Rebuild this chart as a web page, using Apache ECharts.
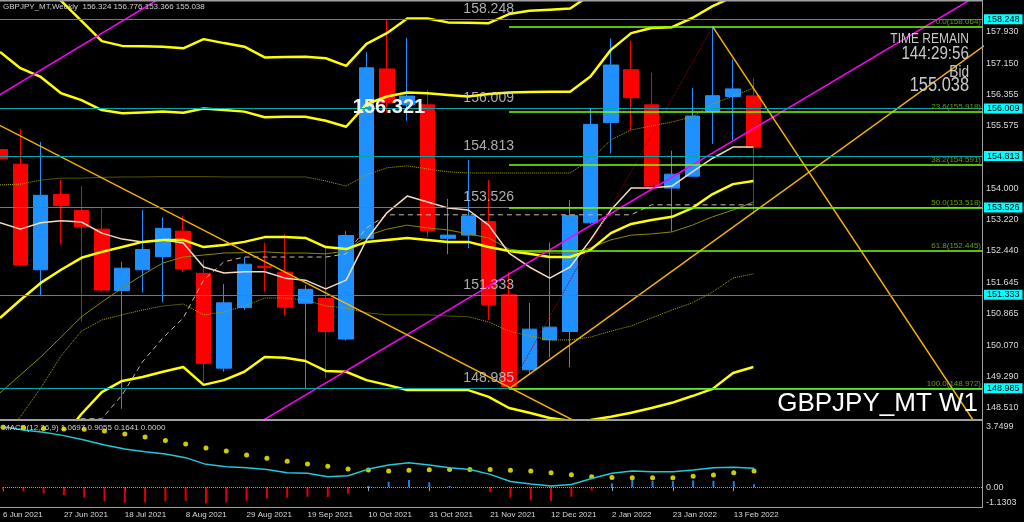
<!DOCTYPE html>
<html><head><meta charset="utf-8">
<script src="https://cdn.jsdelivr.net/npm/echarts@6/dist/echarts.min.js"></script>
<style>html,body{margin:0;padding:0;background:#000;}#c{width:1024px;height:522px;}</style>
</head><body><div id="c"></div>
<script>
// ---- categories (weekly candles) ----
const weeks = ['6 Jun 2021','13 Jun 2021','20 Jun 2021','27 Jun 2021','4 Jul 2021','11 Jul 2021','18 Jul 2021','25 Jul 2021','1 Aug 2021','8 Aug 2021','15 Aug 2021','22 Aug 2021','29 Aug 2021','5 Sep 2021','12 Sep 2021','19 Sep 2021','26 Sep 2021','3 Oct 2021','10 Oct 2021','17 Oct 2021','24 Oct 2021','31 Oct 2021','7 Nov 2021','14 Nov 2021','21 Nov 2021','28 Nov 2021','5 Dec 2021','12 Dec 2021','19 Dec 2021','26 Dec 2021','2 Jan 2022','9 Jan 2022','16 Jan 2022','23 Jan 2022','30 Jan 2022','6 Feb 2022','13 Feb 2022','20 Feb 2022'];
const dateTickIdx = [0,3,6,9,12,15,18,21,24,27,30,33,36];
// ---- candles [open, close, low, high] ----
const candles = [
[154.98,154.75,154.60,155.05],[154.61,152.08,152.05,155.49],[151.96,153.83,151.30,155.17],[153.85,153.57,152.60,154.21],
[153.45,153.04,150.66,154.06],[152.98,151.45,151.41,153.49],[151.44,152.00,148.47,152.16],[151.96,152.47,151.39,153.46],
[152.29,153.00,151.15,153.27],[152.93,151.98,151.91,153.31],[151.87,149.61,149.15,152.21],[149.49,151.13,149.40,151.60],
[151.01,152.10,150.95,152.27],[152.05,152.02,151.41,152.64],[151.90,151.02,150.81,152.85],[151.12,151.47,148.985,151.58],
[151.24,150.41,149.24,152.54],[150.22,152.82,150.18,152.93],[152.75,157.03,152.72,157.42],[157.00,156.15,155.90,158.248],
[156.10,156.32,155.70,157.78],[156.10,152.94,152.79,156.47],[152.75,152.83,152.35,153.74],[152.83,153.31,152.50,154.72],
[153.17,151.08,150.70,154.21],[151.33,149.03,148.972,151.90],[149.45,150.47,149.36,151.13],[150.20,150.52,149.76,152.64],
[150.41,153.32,149.51,153.71],[153.14,155.61,153.11,156.01],[155.66,157.10,154.88,157.77],[156.98,156.28,155.47,157.71],
[156.10,154.06,154.05,156.91],[154.01,154.36,152.92,154.95],[154.31,155.82,154.30,156.52],[155.93,156.33,155.12,158.064],
[156.31,156.50,155.22,157.24],[156.324,155.038,153.366,156.776]];
// ---- indicator lines (price) ----
const bandOuterUpper = [159.99,159.61,159.18,158.71,158.21,157.70,157.58,157.57,157.56,157.52,157.75,157.65,157.56,157.29,157.30,157.31,157.27,157.08,157.63,157.90,158.27,158.27,158.17,158.16,158.15,158.38,158.46,158.49,158.52,158.86,159.6,160.1,160.3,160.4,160.6,160.9,161.0,161.1];
const bandUpper = [157.43,157.02,156.80,156.39,156.22,155.97,155.89,155.91,155.93,155.90,156.01,155.97,155.93,155.79,155.80,155.80,155.70,155.55,156.12,156.31,156.41,156.39,156.35,156.31,156.37,156.41,156.42,156.43,156.43,156.81,157.48,157.90,158.03,158.05,158.28,158.58,158.81,158.98];
const bandMiddle = [150.75,151.20,151.63,151.96,152.26,152.41,152.53,152.66,152.71,152.71,152.53,152.58,152.66,152.78,152.78,152.76,152.53,152.48,152.66,152.71,152.76,152.71,152.66,152.66,152.53,152.43,152.36,152.28,152.28,152.46,152.88,153.11,153.21,153.29,153.51,153.86,154.11,154.19];
const bandLower = [147.8,147.6,147.5,147.7,148.34,148.89,149.17,149.27,149.40,149.52,149.07,149.19,149.40,149.77,149.75,149.67,149.42,149.40,149.19,149.07,148.94,148.94,148.94,148.94,148.77,148.49,148.37,148.24,148.17,148.19,148.27,148.37,148.49,148.62,148.79,148.97,149.37,149.52];
const oliveLine = [148.87,149.32,149.77,150.27,150.78,151.15,151.50,151.83,152.13,152.28,152.33,152.38,152.39,152.41,152.38,152.38,152.36,152.43,152.81,152.98,153.08,153.01,152.96,152.86,152.76,152.48,152.41,152.38,152.38,152.51,152.71,152.83,152.86,152.91,153.08,153.29,153.46,153.66];
const dotUpper = [154.09,154.11,154.21,154.26,154.26,154.28,154.29,154.29,154.30,154.30,154.30,154.29,154.29,154.29,154.29,154.29,154.19,154.06,154.34,154.52,154.57,154.49,154.42,154.39,154.39,154.39,154.39,154.39,154.39,154.72,155.22,155.47,155.57,155.67,155.80,156.12,156.32,156.52];
const dotLower = [147.68,148.27,148.99,149.80,150.42,150.70,150.83,150.95,151.05,151.10,150.83,150.90,151.05,151.25,151.25,151.20,151.05,151.00,150.88,150.83,150.83,150.83,150.80,150.78,150.65,150.42,150.30,150.20,150.20,150.27,150.42,150.55,150.75,150.95,151.13,151.40,151.75,151.86];
const fastMA = [153.14,152.98,153.14,153.19,153.16,152.88,152.73,152.66,152.71,152.63,152.03,151.88,151.91,151.91,151.75,151.70,151.48,151.70,152.71,153.39,153.81,153.66,153.51,153.46,153.08,152.38,152.03,151.75,152.03,152.71,153.46,154.01,154.01,154.06,154.42,154.76,155.04,155.04];
const stepLine = [148.10,148.10,148.10,148.10,148.22,148.22,148.82,149.65,150.25,150.75,151.70,152.16,152.28,152.28,152.28,152.28,152.28,152.36,153.01,153.34,153.34,153.34,153.34,153.34,153.34,153.34,153.34,153.34,153.34,153.34,153.34,153.34,153.59,153.59,153.59,153.59,153.59,153.59];
// ---- trend lines: [index, price] end points ----
const magentaLine1 = [[-1,156.047],[10,159.435]];
const magentaLine2 = [[12,147.903],[49,159.147]];
const goldDown1 = [[-1,155.845],[30,147.698]];
const goldUp = [[25,148.972],[49,157.828]];
const goldDown2 = [[35,158.064],[49,147.256]];
const fibTrend = [[25,148.972],[35,158.064]];
// ---- horizontal levels ----
const cyanLevels = [158.248,156.009,154.813,153.526,151.333,148.985];
const fibLevels = [['0.0',158.064],['23.6',155.918],['38.2',154.591],['50.0',153.518],['61.8',152.445],['100.0',148.972]];
const bidPrice = 155.038;
const priceTicks = [157.930,157.150,156.355,155.575,154.000,153.220,152.440,151.645,150.865,150.070,149.290,148.510];
// ---- MACD ----
const macdMain = [3.43,3.24,3.11,2.92,2.67,2.39,2.16,2.01,1.88,1.67,1.29,1.15,1.10,1.00,0.81,0.78,0.59,0.64,1.02,1.25,1.38,1.25,1.10,1.00,0.72,0.32,0.17,0.06,0.15,0.49,0.78,0.91,0.87,0.87,0.97,1.10,1.12,1.0697];
const macdSignal = [3.40,3.37,3.33,3.30,3.28,3.18,3.01,2.84,2.65,2.44,2.22,2.05,1.82,1.63,1.46,1.31,1.18,1.02,0.97,0.91,0.95,0.98,1.00,1.00,1.00,0.95,0.91,0.81,0.70,0.59,0.55,0.53,0.53,0.53,0.61,0.68,0.81,0.9055];
const macdHist = [-0.15,-0.23,-0.36,-0.45,-0.60,-0.80,-0.89,-0.87,-0.80,-0.78,-0.93,-0.87,-0.78,-0.64,-0.60,-0.55,-0.57,-0.38,0.07,0.30,0.40,0.27,0.06,-0.01,-0.27,-0.60,-0.74,-0.78,-0.55,-0.19,0.21,0.40,0.36,0.34,0.38,0.36,0.34,0.1641];
const macdTicks = [3.7499,0,-1.1303];

const F = '"Liberation Sans", Arial, sans-serif';
const XMAX = 48.23;
const idx = a => a.map((v,i)=>[i,v]);
function ln(data, color, width, type, z){
  return {type:'line', xAxisIndex:0, yAxisIndex:0, data: idx(data), symbol:'none', silent:true,
    lineStyle:{color:color, width:width, type:type||'solid'}, z:z||3};
}
function seg(pts, color, width, type){
  return {type:'line', xAxisIndex:0, yAxisIndex:0, data: pts, symbol:'none', silent:true,
    lineStyle:{color:color, width:width, type:type||'solid'}, z:4};
}
function narrowText(text, x, y, size, scale){
  return {type:'text', z:100, x:x, y:y, scaleX:scale, style:{text:text, x:0, y:0, textAlign:'right', textVerticalAlign:'middle', fill:'#c8c8c8', font:size+'px '+F}};
}
const chart = echarts.init(document.getElementById('c'));
const option = {
  backgroundColor:'#000',
  animation:false,
  grid:[{left:0, top:0, width:982, height:419},{left:0, top:421, width:982, height:86}],
  xAxis:[
    {type:'value', gridIndex:0, min:0, max:XMAX, show:false},
    {type:'value', gridIndex:1, min:0, max:XMAX, axisLine:{show:false}, splitLine:{show:false},
     axisTick:{show:true, customValues:dateTickIdx, length:4, lineStyle:{color:'#a0a0a0'}},
     axisLabel:{customValues:dateTickIdx, formatter:v=>weeks[Math.round(v)]||'', align:'left', color:'#d8d8d8', fontSize:8, fontFamily:F, margin:4}}
  ],
  yAxis:[
    {type:'value', gridIndex:0, min:148.214, max:158.732, position:'right', axisLine:{show:false}, splitLine:{show:false}, axisTick:{show:false},
     axisLabel:{customValues:priceTicks, formatter:v=>v.toFixed(3), color:'#d8d8d8', fontSize:9, fontFamily:F, margin:4}},
    {type:'value', gridIndex:1, min:-1.1303, max:3.7499, position:'right', axisLine:{show:false}, splitLine:{show:false}, axisTick:{show:false},
     axisLabel:{customValues:macdTicks, color:'#d8d8d8', fontSize:9, fontFamily:F, margin:4,
       formatter:v=> v>3 ? '{t|'+v.toFixed(4)+'}' : (v<-1 ? '{b|'+v.toFixed(4)+'}' : v.toFixed(2)),
       rich:{t:{padding:[12,0,0,0], fontSize:9, color:'#d8d8d8'}, b:{padding:[0,0,8,0], fontSize:9, color:'#d8d8d8'}}}}
  ],
  series:[
    {type:'candlestick', xAxisIndex:0, yAxisIndex:0, silent:true, z:2, barWidth:15,
     encode:{x:0, y:[1,2,3,4]},
     data: candles.map((c,i)=>[i,c[0],c[1],c[2],c[3]]),
     itemStyle:{color:'#1e90ff', color0:'#ff0000', borderColor:'#1e90ff', borderColor0:'#ff0000', borderWidth:1}},
    ln(oliveLine,'#8a8a00',1),
    ln(dotUpper,'#a8a800',1,'dotted'),
    ln(dotLower,'#a8a800',1,'dotted'),
    ln(stepLine,'#c8bca8',1,[5,4]),
    ln(fastMA,'#f5dcc0',1.5),
    ln(bandOuterUpper,'#ffff00',2.5),
    ln(bandUpper,'#ffff00',2.5),
    ln(bandMiddle,'#ffff00',2.5),
    ln(bandLower,'#ffff00',2.5),
    seg(magentaLine1,'#ff00ff',1.5),
    seg(magentaLine2,'#ff00ff',1.5),
    seg(goldDown1,'#f5b400',1.5),
    seg(goldUp,'#f5b400',1.5),
    seg(goldDown2,'#f5b400',1.5),
    seg(fibTrend,'#a00000',1,'dotted'),
    {type:'line', xAxisIndex:0, yAxisIndex:0, data:[], z:5,
     markLine:{silent:true, symbol:'none', animation:false, precision:3,
       lineStyle:{color:'#00a8a8', width:1, type:'solid'},
       label:{show:true, position:'end', distance:2, formatter:p=>Number(p.value).toFixed(3),
         backgroundColor:'#00ffff', color:'#000', fontSize:9, fontFamily:F, padding:[1,3,0,3]},
       data: cyanLevels.map(v=>({yAxis:v}))}},
    {type:'line', xAxisIndex:0, yAxisIndex:0, data:[], z:5,
     markLine:{silent:true, symbol:'none', animation:false, precision:3,
       lineStyle:{color:'#7cfc00', width:1.5, type:'solid'},
       label:{show:true, position:'insideEndTop', distance:1, formatter:p=>p.name, color:'#62a000', fontSize:8, fontFamily:F},
       data: fibLevels.map(f=>[{coord:[25,f[1]], name:f[0]+'('+f[1].toFixed(3)+')'},{coord:[XMAX,f[1]]}])}},
    {type:'line', xAxisIndex:0, yAxisIndex:0, data:[], z:6,
     markLine:{silent:true, symbol:'none', animation:false, precision:3,
       lineStyle:{opacity:0},
       label:{show:true, position:'end', distance:2, formatter:p=>Number(p.value).toFixed(3),
         backgroundColor:'#ffffff', color:'#000', borderColor:'#808080', borderWidth:1, fontSize:9, fontFamily:F, padding:[1,3,0,3]},
       data:[{yAxis:bidPrice}]}},
    {type:'scatter', xAxisIndex:0, yAxisIndex:0, silent:true, z:6, symbolSize:2, itemStyle:{color:'rgba(0,0,0,0)'},
     data: cyanLevels.map(v=>[24,v]),
     label:{show:true, position:'top', distance:2, formatter:p=>p.value[1].toFixed(3), color:'#d8d8d8', fontSize:14, fontFamily:F}},
    {type:'bar', xAxisIndex:1, yAxisIndex:1, silent:true, barWidth:2,
     data: macdHist.map((v,i)=>({value:[i,v], itemStyle:{color: v>=0 ? '#1e80e0' : '#e00000'}})),
     markLine:{silent:true, symbol:'none', animation:false, label:{show:false},
       lineStyle:{color:'#a0a0a0', type:'dotted', width:1}, data:[{yAxis:0}]}},
    {type:'line', xAxisIndex:1, yAxisIndex:1, silent:true, data: idx(macdMain), symbol:'none', lineStyle:{color:'#20c8d8', width:1.5}},
    {type:'scatter', xAxisIndex:1, yAxisIndex:1, silent:true, data: idx(macdSignal), symbolSize:5, itemStyle:{color:'#ffff00'}}
  ],
  graphic:[
    {type:'rect', shape:{x:0,y:0,width:983,height:1.5}, style:{fill:'#a0a0a0'}, z:100},
    {type:'rect', shape:{x:982,y:0,width:1,height:508}, style:{fill:'#a0a0a0'}, z:100},
    {type:'rect', shape:{x:0,y:419,width:983,height:2}, style:{fill:'#a0a0a0'}, z:100},
    {type:'rect', shape:{x:0,y:507,width:983,height:1}, style:{fill:'#a0a0a0'}, z:100},
    {type:'text', z:100, style:{text:'GBPJPY_MT,Weekly  156.324 156.776 153.366 155.038', x:3, y:7, textVerticalAlign:'middle', fill:'#d0d0d0', font:'8px '+F}},
    {type:'text', z:100, style:{text:'MACD(12,26,9) 1.0697 0.9055 0.1641 0.0000', x:3, y:428, textVerticalAlign:'middle', fill:'#d0d0d0', font:'8px '+F}},
    narrowText('TIME REMAIN', 969, 39, 15, 0.8),
    narrowText('144:29:56', 969, 54, 19, 0.8),
    narrowText('Bid', 969, 72, 17, 0.8),
    narrowText('155.038', 969, 85, 20, 0.82),
    {type:'text', z:100, style:{text:'GBPJPY_MT W1', x:978, y:404, textAlign:'right', textVerticalAlign:'middle', fill:'#ffffff', font:'26px '+F}},
    {type:'text', z:100, style:{text:'156.321', x:389, y:107, textAlign:'center', textVerticalAlign:'middle', fill:'#f0f0f0', font:'bold 20px '+F}}
  ]
};
chart.setOption(option);
</script></body></html>
